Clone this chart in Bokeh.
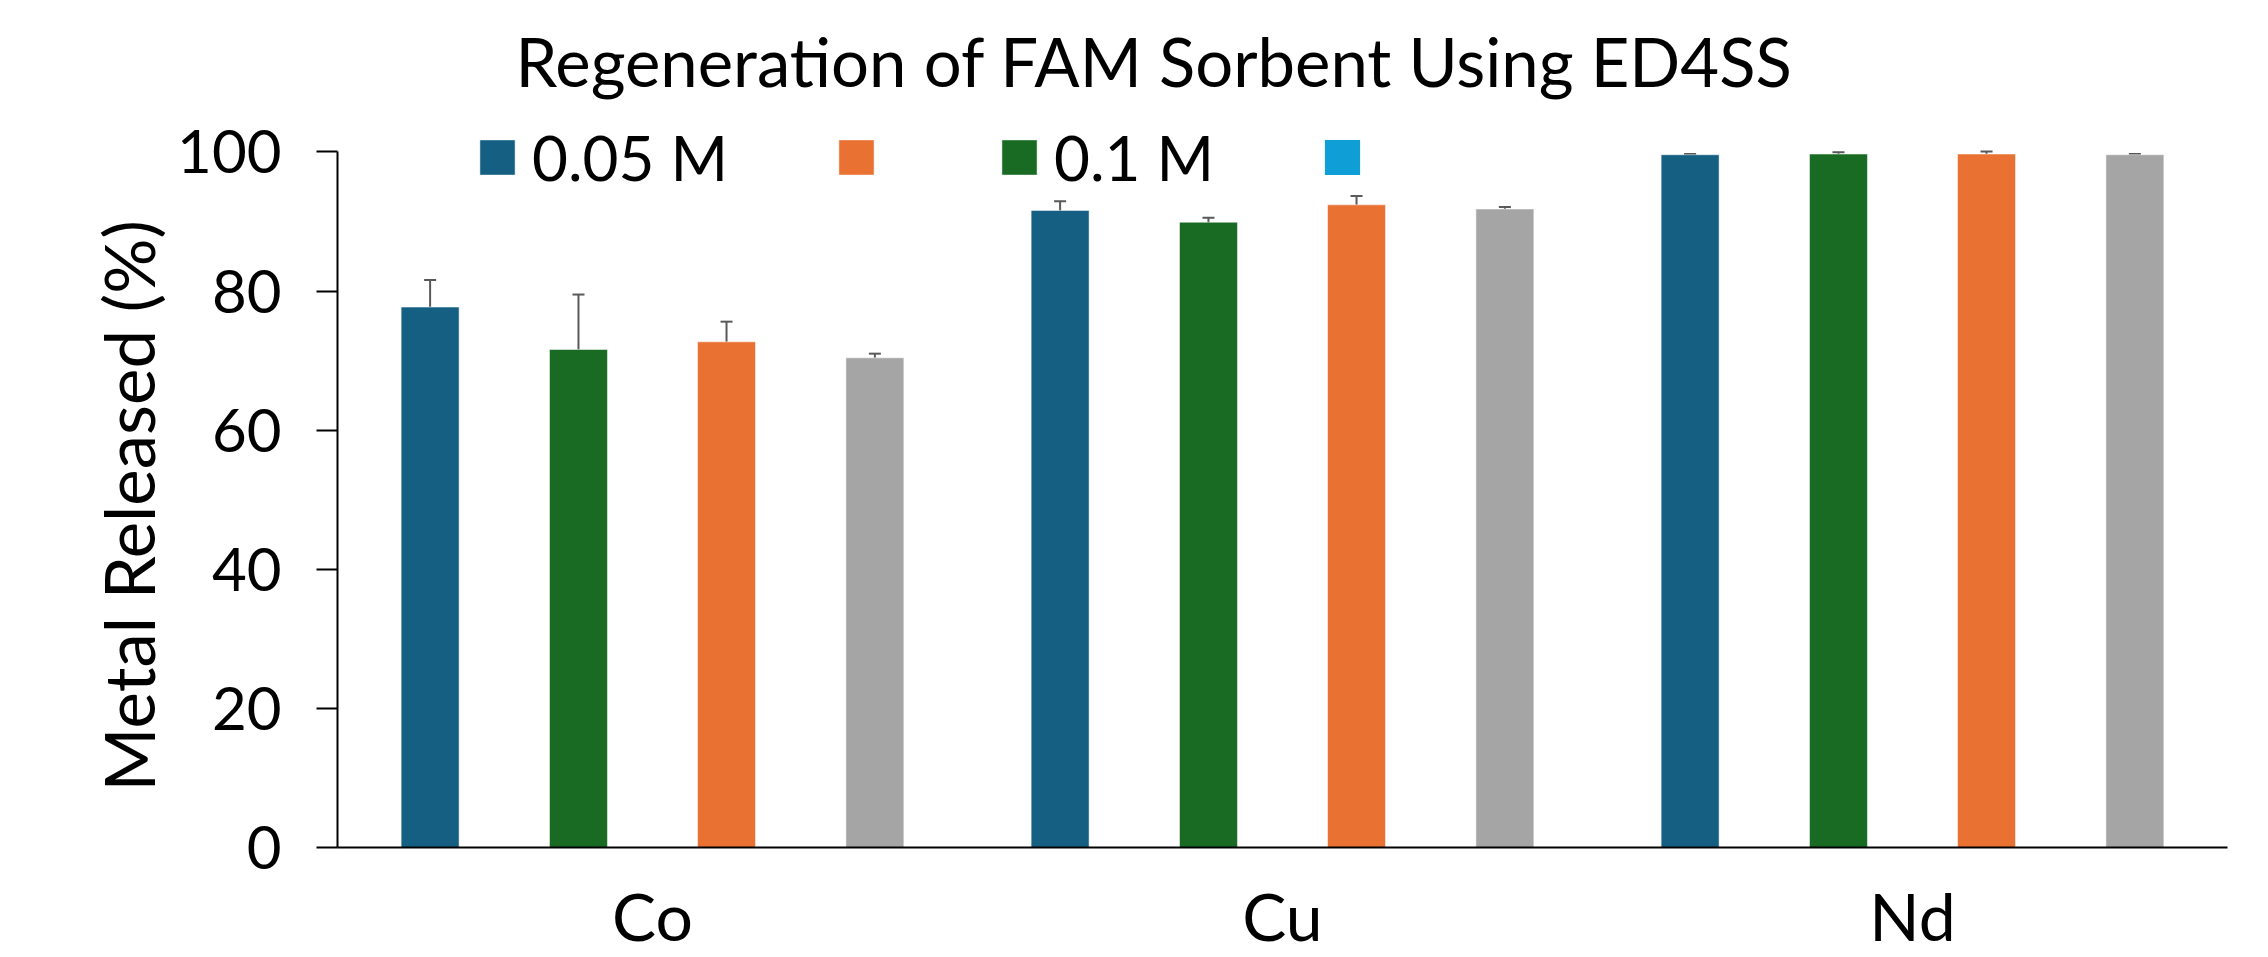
import math
from bokeh.plotting import figure
from bokeh.models import (ColumnDataSource, FactorRange, Range1d, Whisker, Legend,
                          LegendItem, TeeHead, FixedTicker, Title)
from bokeh.transform import dodge
from bokeh.core.properties import value
from bokeh.embed import file_html
from bokeh.resources import INLINE

# ---------------- data ----------------
categories = ["Co", "Cu", "Nd"]

blue_vals = [77.7, 91.6, 99.6]
blue_err = [3.9, 1.3, 0.1]
green_vals = [71.6, 89.9, 99.7]
green_err = [7.9, 0.65, 0.25]
orange_vals = [72.7, 92.4, 99.7]
orange_err = [2.9, 1.25, 0.35]
gray_vals = [70.4, 91.8, 99.6]
gray_err = [0.6, 0.3, 0.1]
# fourth legend series has no values in the chart
lblue_vals = [math.nan, math.nan, math.nan]

legend_labels = ["0.05 M", "", "0.1 M", ""]
legend_colors = ["#156082", "#E97132", "#196B24", "#0F9ED5"]

y_ticks = [0, 20, 40, 60, 80, 100]

title_text = "Regeneration of FAM Sorbent Using ED4SS"
y_label = "Metal Released (%)"

# ---------------- styling ----------------
FONT = "Lato"
BLUE, ORANGE, GREEN, LBLUE = legend_colors
GRAY = "#A5A5A5"
ERR = "#595959"

series = [
    ("blue", blue_vals, blue_err, BLUE, -0.353),
    ("green", green_vals, green_err, GREEN, -0.1175),
    ("orange", orange_vals, orange_err, ORANGE, 0.1175),
    ("gray", gray_vals, gray_err, GRAY, 0.353),
]

data = dict(cat=categories, lblue=lblue_vals)
for name, vals, errs, _, _ in series:
    data[name] = vals
    data[name + "_lo"] = [v - e for v, e in zip(vals, errs)]
    data[name + "_hi"] = [v + e for v, e in zip(vals, errs)]
src = ColumnDataSource(data)

p = figure(
    width=2268, height=957,
    x_range=FactorRange(*categories, range_padding=0),
    y_range=Range1d(0, 105.96),
    output_backend="svg", toolbar_location=None,
    min_border_left=337, min_border_right=41,
    min_border_top=110, min_border_bottom=109,
)
p.background_fill_color = "white"
p.border_fill_color = "white"
p.outline_line_color = None
p.xgrid.grid_line_color = None
p.ygrid.grid_line_color = None

renderers = {}
for name, vals, errs, color, off in series:
    r = p.vbar(x=dodge("cat", off, range=p.x_range), top=name, width=0.092, source=src,
               fill_color=color, line_color="white", line_alpha=0.5, line_width=1)
    renderers[name] = r
    w = Whisker(source=src, base=dodge("cat", off, range=p.x_range),
                upper=name + "_hi", lower=name + "_lo",
                line_color=ERR, line_width=2,
                upper_head=TeeHead(size=12, line_color=ERR, line_width=2),
                lower_head=TeeHead(size=12, line_color=ERR, line_width=2))
    p.add_layout(w)

# series shown only in the legend (no values)
r_lblue = p.vbar(x="cat", top="lblue", width=0.092, source=src,
                 fill_color=LBLUE, line_color=None)

legend_renderers = [renderers["blue"], renderers["orange"], renderers["green"], r_lblue]
items = [LegendItem(label=value(lbl), renderers=[rr])
         for lbl, rr in zip(legend_labels, legend_renderers)]
legend = Legend(items=items, orientation="horizontal", location=(138, 653),
                glyph_width=44, glyph_height=44, label_standoff=13, label_width=0,
                spacing=106, padding=0, margin=0,
                border_line_color=None, background_fill_alpha=0,
                label_text_font=FONT, label_text_font_size="62px",
                label_text_color="black")
p.add_layout(legend, "center")

# title
p.title.text = title_text
p.title.align = "left"
p.title.offset = 178
p.title.standoff = 19
p.title.text_font = FONT
p.title.text_font_size = "67px"
p.title.text_font_style = "normal"
p.title.text_color = "black"

# y axis
ya = p.yaxis[0]
ya.ticker = FixedTicker(ticks=y_ticks)
ya.bounds = (0, 100)
ya.major_tick_out = 21
ya.major_tick_in = 0
ya.minor_tick_out = 0
ya.minor_tick_in = 0
ya.axis_line_width = 2
ya.axis_line_color = "black"
ya.major_tick_line_width = 2
ya.major_tick_line_color = "black"
ya.major_label_standoff = 35
ya.major_label_text_font = FONT
ya.major_label_text_font_size = "60px"
ya.major_label_text_color = "black"

# y axis title, centred on the 0-100 span of the axis
ytitle = Title(text=y_label, align="left", offset=56, standoff=10,
               vertical_align="bottom", text_font=FONT, text_font_size="69px",
               text_font_style="normal", text_color="black")
p.add_layout(ytitle, "left")

# x axis
xa = p.xaxis[0]
xa.major_tick_out = 0
xa.major_tick_in = 0
xa.major_tick_line_color = None
xa.axis_line_width = 2
xa.axis_line_color = "black"
xa.major_label_standoff = 28
xa.major_label_text_font = FONT
xa.major_label_text_font_size = "66px"
xa.major_label_text_color = "black"

open("out.html", "w").write(file_html(p, INLINE))
